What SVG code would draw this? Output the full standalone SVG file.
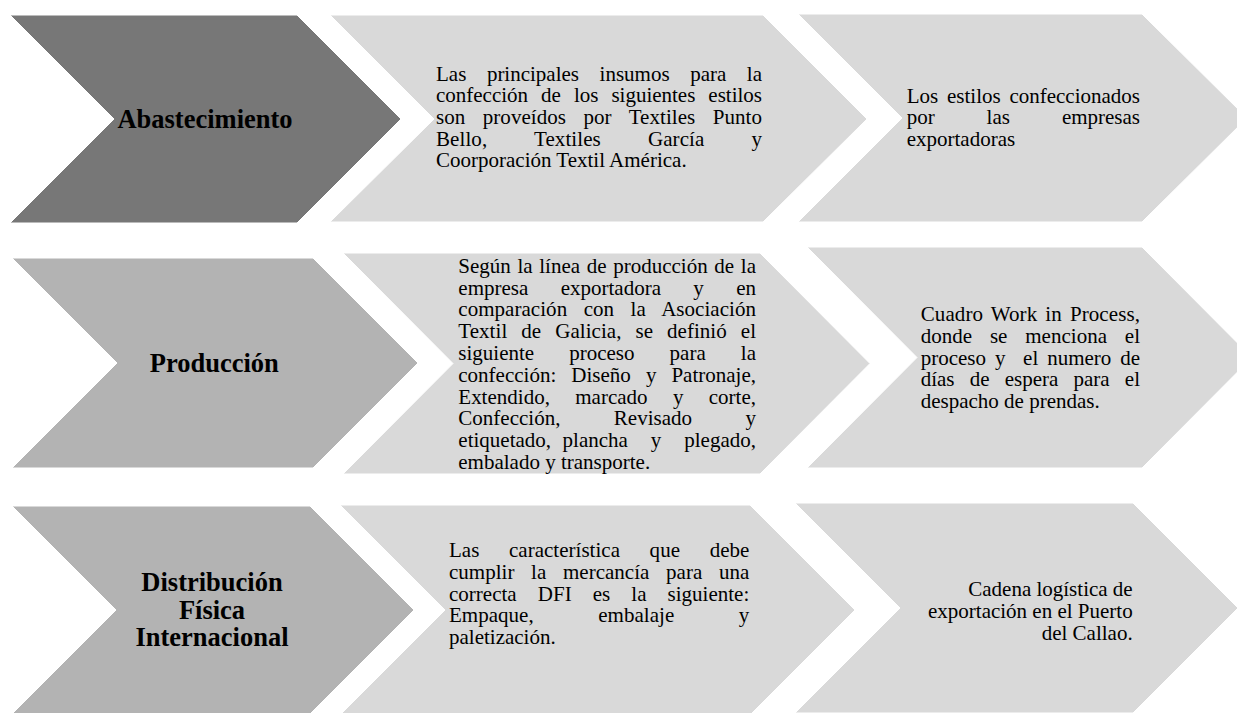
<svg xmlns="http://www.w3.org/2000/svg" width="1237" height="713" viewBox="0 0 1237 713">
<style>
.dark{fill:#777777;stroke:#ffffff;stroke-width:1}
.mid{fill:#b3b3b3;stroke:#ffffff;stroke-width:1}
.light{fill:#d9d9d9;stroke:#ffffff;stroke-width:1}
.t{font-family:"Liberation Serif","Times New Roman",serif;font-size:21px;fill:#000000}
.h{font-family:"Liberation Serif","Times New Roman",serif;font-size:26.5px;font-weight:bold;fill:#000000;text-anchor:middle}
.r{text-anchor:end}
</style>
<rect width="1237" height="713" fill="#ffffff"/>
<g id="connectors"/>

<g id="abastecimiento">
<polygon class="dark" points="10,15 297,15 401,119 297,223 10,223 114,119"/>
<text class="h" x="205" y="128.3" font-size="26">Abastecimiento</text>
</g>
<g id="insumos">
<polygon class="light" points="330,15 763,15 867,119 763,222 330,222 434,119"/>
<text class="t" x="436" y="80.5" word-spacing="15.3" textLength="326" lengthAdjust="spacing">Las principales insumos para la</text>
<text class="t" x="436" y="102.2" word-spacing="7.8" textLength="326" lengthAdjust="spacing">confección de los siguientes estilos</text>
<text class="t" x="436" y="123.9" word-spacing="12.1" textLength="326" lengthAdjust="spacing">son proveídos por Textiles Punto</text>
<text class="t" x="436" y="145.6" word-spacing="41.8" textLength="326" lengthAdjust="spacing">Bello, Textiles García y</text>
<text class="t" x="436" y="167.3">Coorporación Textil América.</text>
</g>
<g id="estilos">
<polygon class="light" points="798,14 1142,14 1247,118 1142,222 798,222 902,118"/>
<text class="t" x="906.7" y="102.7" word-spacing="3.5" textLength="233.3" lengthAdjust="spacing">Los estilos confeccionados</text>
<text class="t" x="906.7" y="124.4" word-spacing="46.7" textLength="233.3" lengthAdjust="spacing">por las empresas</text>
<text class="t" x="906.7" y="146.1">exportadoras</text>
</g>

<g id="produccion">
<polygon class="mid" points="12,258 313,258 418,363 313,468 12,468 117,363"/>
<text class="h" x="214.3" y="371.7">Producción</text>
</g>
<g id="proceso">
<polygon class="light" points="343,253 760,253 870,363.5 760,474 343,474 453,363.5"/>
<text class="t" x="458.3" y="272.7" word-spacing="1.4" textLength="297.7" lengthAdjust="spacing">Según la línea de producción de la</text>
<text class="t" x="458.3" y="294.5" word-spacing="27.1" textLength="297.7" lengthAdjust="spacing">empresa exportadora y en</text>
<text class="t" x="458.3" y="316.3" word-spacing="11.2" textLength="297.7" lengthAdjust="spacing">comparación con la Asociación</text>
<text class="t" x="458.3" y="338.1" word-spacing="8.7" textLength="297.7" lengthAdjust="spacing">Textil de Galicia, se definió el</text>
<text class="t" x="458.3" y="359.9" word-spacing="29.8" textLength="297.7" lengthAdjust="spacing">siguiente proceso para la</text>
<text class="t" x="458.3" y="381.7" word-spacing="9.8" textLength="297.7" lengthAdjust="spacing">confección: Diseño y Patronaje,</text>
<text class="t" x="458.3" y="403.5" word-spacing="20.1" textLength="297.7" lengthAdjust="spacing">Extendido, marcado y corte,</text>
<text class="t" x="458.3" y="425.3" word-spacing="48.2" textLength="297.7" lengthAdjust="spacing">Confección, Revisado y</text>
<text class="t" x="458.3" y="447.1" word-spacing="6.2" textLength="297.7" lengthAdjust="spacing" xml:space="preserve">etiquetado, plancha  y  plegado,</text>
<text class="t" x="458.3" y="468.9">embalado y transporte.</text>
</g>
<g id="work-in-process">
<polygon class="light" points="807,247 1142,247 1252,357.5 1142,468 807,468 917,357.5"/>
<text class="t" x="920.7" y="320.7" word-spacing="2.7" textLength="219.3" lengthAdjust="spacing">Cuadro Work in Process,</text>
<text class="t" x="920.7" y="342.6" word-spacing="12.6" textLength="219.3" lengthAdjust="spacing">donde se menciona el</text>
<text class="t" x="920.7" y="364.5" word-spacing="3.6" textLength="219.3" lengthAdjust="spacing" xml:space="preserve">proceso y  el numero de</text>
<text class="t" x="920.7" y="386.4" word-spacing="9.9" textLength="219.3" lengthAdjust="spacing">días de espera para el</text>
<text class="t" x="920.7" y="408.3">despacho de prendas.</text>
</g>

<g id="distribucion">
<polygon class="mid" points="12,506 310,506 414,610 310,714 12,714 116,610"/>
<text class="h" x="212" y="591.3">Distribución</text>
<text class="h" x="212" y="619">Física</text>
<text class="h" x="212" y="646.3">Internacional</text>
</g>
<g id="caracteristicas">
<polygon class="light" points="340,505 750,505 855,610 750,715 340,715 445,610"/>
<text class="t" x="449" y="557.3" word-spacing="24.4" textLength="300.3" lengthAdjust="spacing">Las característica que debe</text>
<text class="t" x="449" y="579" word-spacing="11.4" textLength="300.3" lengthAdjust="spacing">cumplir la mercancía para una</text>
<text class="t" x="449" y="600.7" word-spacing="15.8" textLength="300.3" lengthAdjust="spacing">correcta DFI es la siguiente:</text>
<text class="t" x="449" y="622.4" word-spacing="59.3" textLength="300.3" lengthAdjust="spacing">Empaque, embalaje y</text>
<text class="t" x="449" y="644.1">paletización.</text>
</g>
<g id="cadena-logistica">
<polygon class="light" points="795,503 1133,503 1238,608 1133,713 795,713 900,608"/>
<text class="t r" x="1132.7" y="596.3">Cadena logística de</text>
<text class="t r" x="1132.7" y="618">exportación en el Puerto</text>
<text class="t r" x="1132.7" y="639.7">del Callao.</text>
</g>
</svg>
